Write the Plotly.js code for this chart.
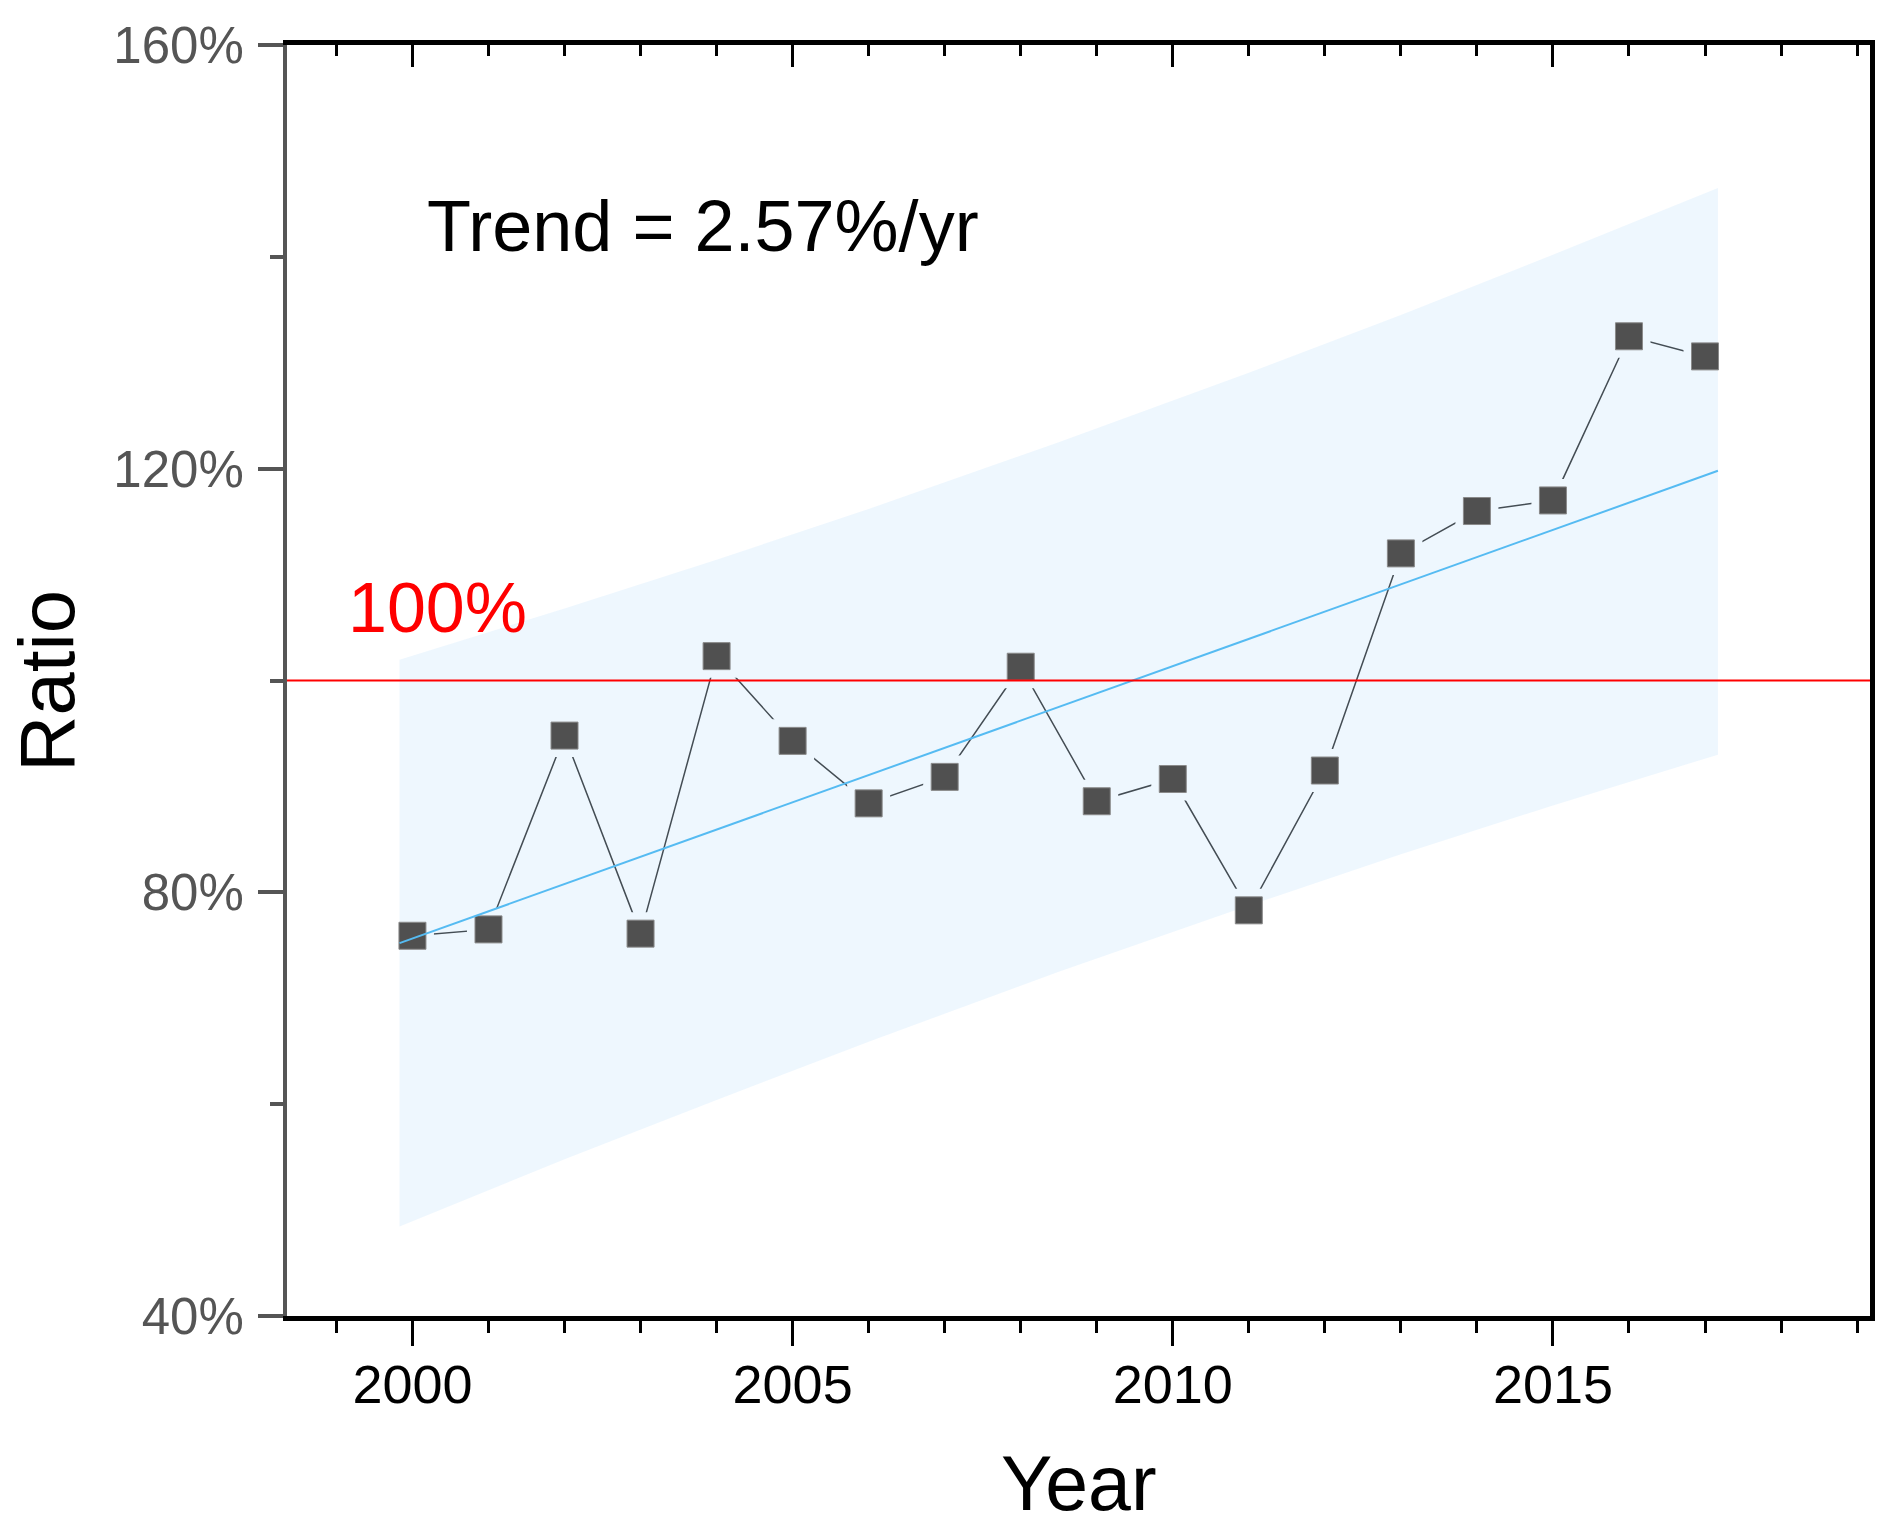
<!DOCTYPE html>
<html>
<head>
<meta charset="utf-8">
<script src="https://cdn.plot.ly/plotly-3.0.1.min.js"></script>
<style>
  html, body { margin: 0; padding: 0; background: #fff; }
  #chart { width: 1892px; height: 1536px; }
</style>
</head>
<body>
<div id="chart"></div>
<script>
// yearly ratio values (%)
var years = [2000, 2001, 2002, 2003, 2004, 2005, 2006, 2007, 2008,
             2009, 2010, 2011, 2012, 2013, 2014, 2015, 2016, 2017];
var ratio = [75.9, 76.5, 94.8, 76.1, 102.3, 94.3, 88.4, 90.9, 101.3,
             88.6, 90.7, 78.3, 91.5, 112.0, 116.0, 117.0, 132.5, 130.6];

// fitted trend line ends
var trendX = [1999.83, 2017.17];
var trendY = [75.2, 119.8];

// shaded band edges
var bandX     = [1999.83, 2002, 2004, 2006, 2008.5, 2011, 2013, 2015, 2017.17];
var bandUpper = [101.95, 106.8, 111.4, 116.2, 122.5, 129.05, 134.5, 140.2, 146.5];
var bandLower = [48.45, 54.8, 60.4, 65.9, 72.5, 78.75, 83.6, 88.2, 93.0];

var refLevel = 100;
var trendLabel = 'Trend = 2.57%/yr';
var refLabel = '100%';

var font = 'Liberation Sans, Arial, sans-serif';

// white squares under a see-through band leave a gap between line and markers
var gaps = {
  type: 'scatter', mode: 'markers',
  x: years, y: ratio,
  marker: {symbol: 'square', size: 43, color: '#ffffff', line: {width: 0}},
  hoverinfo: 'skip', showlegend: false
};

var joins = {
  type: 'scatter', mode: 'lines',
  x: years, y: ratio,
  line: {color: '#404040', width: 1.5},
  hoverinfo: 'skip', showlegend: false
};

// closed polygon for the band
var polyX = bandX.concat(bandX.slice().reverse());
var polyY = bandUpper.concat(bandLower.slice().reverse());

var band = {
  type: 'scatter', mode: 'lines',
  x: polyX, y: polyY,
  fill: 'toself', fillcolor: 'rgba(100,185,245,0.11)',
  line: {width: 0, color: 'rgba(0,0,0,0)'},
  hoverinfo: 'skip', showlegend: false
};

var points = {
  type: 'scatter', mode: 'markers',
  x: years, y: ratio,
  marker: {symbol: 'square', size: 27, color: '#505050',
           line: {width: 1, color: '#8a8a8a'}},
  name: 'Ratio', showlegend: false
};

var trend = {
  type: 'scatter', mode: 'lines',
  x: trendX, y: trendY,
  line: {color: '#55bbf2', width: 2},
  hoverinfo: 'skip', showlegend: false
};

// empty trace so the top/right frame axes get drawn
var frame = {
  type: 'scatter', mode: 'markers', x: [], y: [],
  xaxis: 'x2', yaxis: 'y2', hoverinfo: 'skip', showlegend: false
};

var xRange = [1998.35, 2019.17];
var yRange = [40, 160];

var layout = {
  width: 1892,
  height: 1536,
  margin: {l: 287, r: 22, t: 45, b: 220},
  paper_bgcolor: '#ffffff',
  plot_bgcolor: '#ffffff',
  showlegend: false,
  font: {family: font, color: '#000'},
  xaxis: {
    range: xRange,
    showgrid: false, zeroline: false,
    showline: true, linecolor: '#000', linewidth: 5,
    ticks: 'outside', ticklen: 25, tickwidth: 3, tickcolor: '#000',
    tick0: 2000, dtick: 5,
    minor: {dtick: 1, ticks: 'outside', ticklen: 12, tickwidth: 3, tickcolor: '#000', showgrid: false},
    tickfont: {family: font, size: 54, color: '#000'},
    ticklabelstandoff: -8,
    automargin: false
  },
  xaxis2: {
    range: xRange, overlaying: 'x', side: 'top',
    showgrid: false, zeroline: false,
    showline: true, linecolor: '#000', linewidth: 5,
    ticks: 'inside', ticklen: 22, tickwidth: 3, tickcolor: '#000',
    tick0: 2000, dtick: 5,
    minor: {dtick: 1, ticks: 'inside', ticklen: 11, tickwidth: 3, tickcolor: '#000', showgrid: false},
    showticklabels: false
  },
  yaxis: {
    range: yRange,
    showgrid: false, zeroline: false,
    showline: true, linecolor: '#555555', linewidth: 4,
    ticks: 'outside', ticklen: 25, tickwidth: 4, tickcolor: '#555555',
    tick0: 40, dtick: 40, ticksuffix: '%',
    minor: {dtick: 20, ticks: 'outside', ticklen: 13, tickwidth: 4, tickcolor: '#555555', showgrid: false},
    tickfont: {family: font, size: 51, color: '#555555'},
    ticklabelstandoff: 4,
    automargin: false
  },
  yaxis2: {
    range: yRange, overlaying: 'y', side: 'right',
    showgrid: false, zeroline: false,
    showline: true, linecolor: '#000', linewidth: 5,
    ticks: '', showticklabels: false
  },
  shapes: [{
    type: 'line', layer: 'above',
    xref: 'paper', x0: 0, x1: 1,
    yref: 'y', y0: refLevel, y1: refLevel,
    line: {color: '#ff0000', width: 2}
  }],
  annotations: [{
    text: trendLabel, xref: 'x', yref: 'y',
    x: 2000.16, y: 142.9, xanchor: 'left', yanchor: 'middle',
    showarrow: false,
    font: {family: font, size: 72, color: '#000'}
  }, {
    text: refLabel, xref: 'x', yref: 'y',
    x: 1999.12, y: 106.8, xanchor: 'left', yanchor: 'middle',
    showarrow: false,
    font: {family: font, size: 70, color: '#ff0000'}
  }, {
    // axis titles
    text: 'Year', xref: 'paper', yref: 'paper',
    x: 0.5, y: -0.131, xanchor: 'center', yanchor: 'middle',
    showarrow: false,
    font: {family: font, size: 77, color: '#000'}
  }, {
    text: 'Ratio', xref: 'paper', yref: 'paper',
    x: -0.152, y: 0.5, xanchor: 'center', yanchor: 'middle',
    textangle: -90, showarrow: false,
    font: {family: font, size: 78, color: '#000'}
  }]
};

Plotly.newPlot('chart', [joins, gaps, band, points, trend, frame], layout,
               {displayModeBar: false, staticPlot: true});
</script>
</body>
</html>
